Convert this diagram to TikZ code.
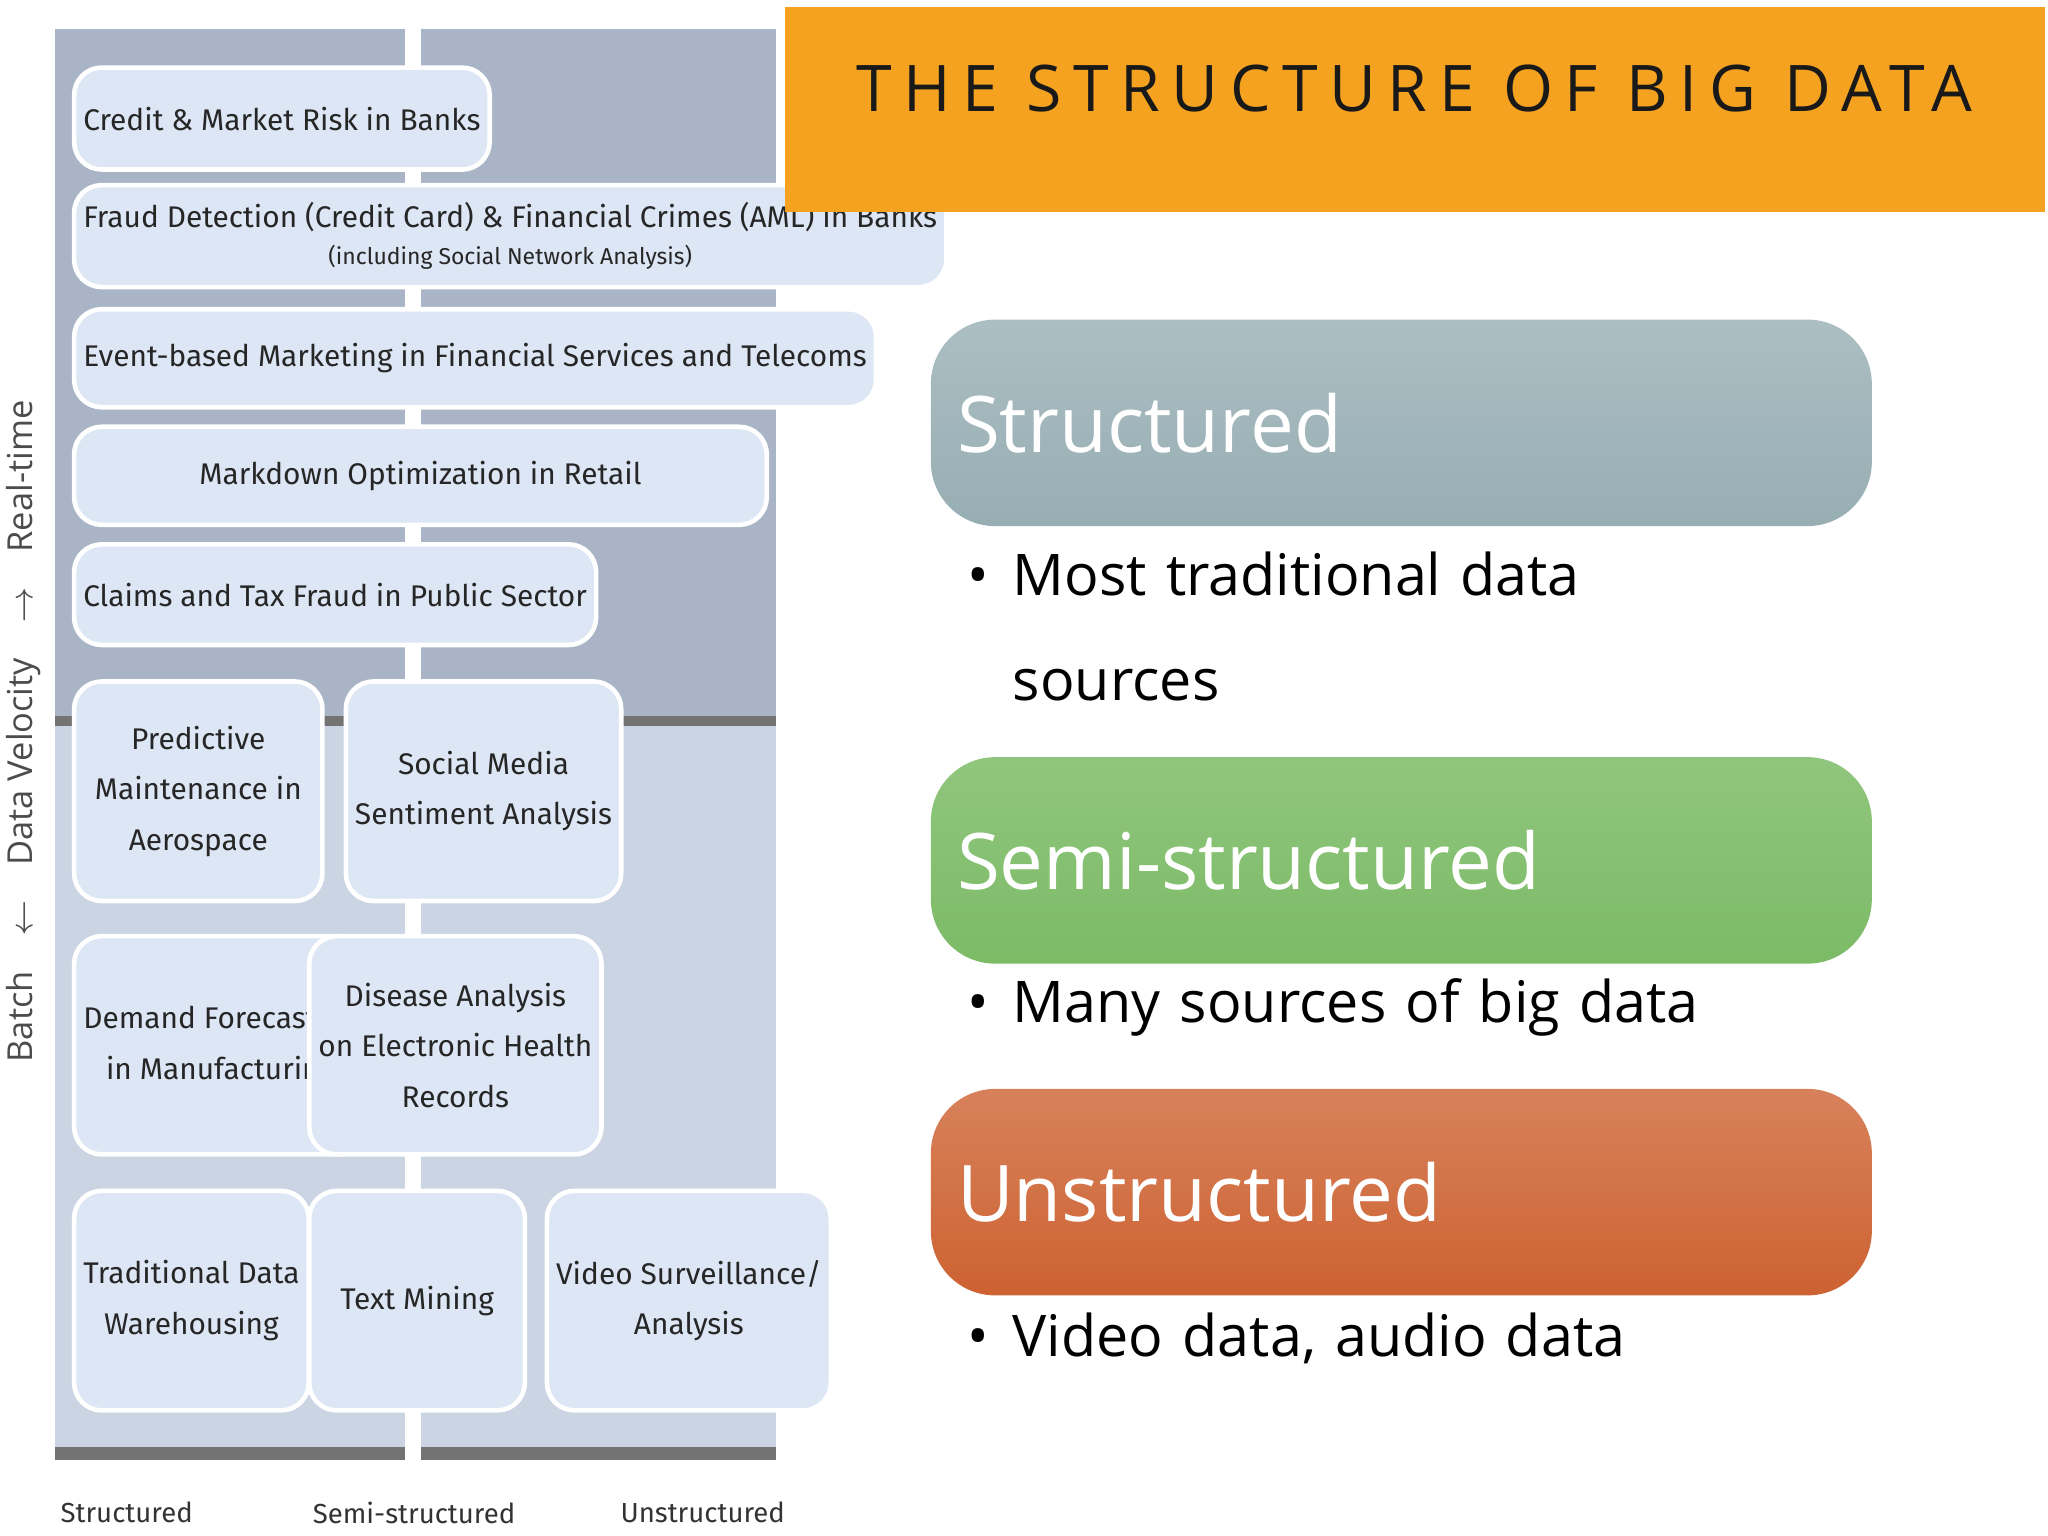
\documentclass[tikz,border=0pt]{standalone}
\usepackage{fontspec}
\setmainfont{Open Sans}
\newfontfamily\narrowFont{Fira Sans}
\newfontfamily\spacedFont[LetterSpace=18]{Open Sans}
\usetikzlibrary{positioning}
\definecolor{bannerOrange}{HTML}{F4A21F}
\definecolor{structGray}{HTML}{97AEB3}
\definecolor{semiGreen}{HTML}{7CBB66}
\definecolor{unstructRed}{HTML}{CD6232}
\definecolor{panelDark}{HTML}{A9B5C6}
\definecolor{panelLight}{HTML}{CAD4E2}
\definecolor{boxBlue}{HTML}{DCE6F4}
\tikzstyle{useCase} = [rectangle, rounded corners=6pt, fill=boxBlue, draw=white, line width=1pt,
text centered, align=center, font=\narrowFont\fontsize{6.5}{11}\selectfont, text=black!85, anchor=north west, inner sep=2pt]
\tikzstyle{dataType} = [rectangle, rounded corners=14pt, minimum width=7.2cm, minimum height=1.58cm,
text=white, font=\fontsize{17}{20}\selectfont, anchor=north west, text width=6.8cm, align=left]
\tikzstyle{bulletItem} = [anchor=west, font=\fontsize{12.5}{15}\selectfont, text width=7cm, align=left]
\tikzstyle{axisLabel} = [font=\narrowFont\fontsize{6}{8}\selectfont, text=black!80]

\begin{document}
\begin{tikzpicture}[x=0.01cm, y=-0.01cm]
        \useasboundingbox (0,0) rectangle (1568,1176);

        % left panel
        \fill[panelDark] (42,22) rectangle (594,555);
        \fill[panelLight] (42,555) rectangle (594,1118);
        \fill[black!55] (42,548) rectangle (594,556);
        \fill[black!55] (42,1108) rectangle (594,1118);
        \fill[white] (310,22) rectangle (322,1118);

        \node (creditRisk) [useCase, minimum width=2.47cm, minimum height=0.78cm] at (55,50) {Credit \& Market Risk in Banks};
        \node (fraudDetect) [useCase, minimum width=5.3cm, minimum height=0.78cm] at (55,140) {Fraud Detection (Credit Card) \& Financial Crimes (AML) in Banks\\[-3pt]{\fontsize{5}{7}\selectfont (including Social Network Analysis)}};
        \node (eventMarketing) [useCase, minimum width=5.3cm, minimum height=0.75cm] at (55,235) {Event-based Marketing in Financial Services and Telecoms};
        \node (markdown) [useCase, minimum width=5.3cm, minimum height=0.75cm] at (55,325) {Markdown Optimization in Retail};
        \node (claimsFraud) [useCase, minimum width=3.07cm, minimum height=0.77cm] at (55,415) {Claims and Tax Fraud in Public Sector};

        \node (predictive) [useCase, minimum width=1.9cm, minimum height=1.68cm] at (55,520) {Predictive\\Maintenance in\\Aerospace};
        \node (socialMedia) [useCase, minimum width=1.92cm, minimum height=1.68cm] at (263,520) {Social Media\\Sentiment Analysis};
        \node (demandForecast) [useCase, minimum width=1.63cm, minimum height=1.67cm] at (55,715) {Demand Forecasting\\in Manufacturing};
        \node (diseaseAnalysis) [useCase, minimum width=1.93cm, minimum height=1.67cm] at (235,715) {Disease Analysis\\on Electronic Health\\Records};
        \node (traditionalDW) [useCase, minimum width=1.63cm, minimum height=1.68cm] at (55,910) {Traditional Data\\Warehousing};
        \node (textMining) [useCase, minimum width=1.65cm, minimum height=1.68cm] at (235,910) {Text Mining};
        \node (videoSurv) [useCase, minimum width=1.65cm, minimum height=1.68cm] at (417,910) {Video Surveillance/\\Analysis};

        \node (axisStruct) [axisLabel] at (97,1158) {Structured};
        \node (axisSemi) [axisLabel] at (317,1158) {Semi-structured};
        \node (axisUnstruct) [axisLabel] at (538,1158) {Unstructured};
        \node (velocity) [rotate=90, font=\fontsize{7.5}{9}\selectfont, text=black!70] at (18,560)
            {Batch\quad$\leftarrow$\quad Data Velocity\quad$\rightarrow$\quad Real-time};

        % right side
        \fill[bannerOrange] (601,5) rectangle (1566,162);
        \node (title) [font=\spacedFont\fontsize{14}{17}\selectfont, text=black!90] at (1083,68)
            {THE STRUCTURE OF BIG DATA};

        \node (structured) [dataType, top color=structGray!80, bottom color=structGray] at (712,244) {Structured};
        \node (semiStructured) [dataType, top color=semiGreen!85, bottom color=semiGreen] at (712,579) {Semi-structured};
        \node (unstructured) [dataType, top color=unstructRed!80, bottom color=unstructRed] at (712,833) {Unstructured};

        \node (structNote) [bulletItem, anchor=north west] at (728,410)
            {\makebox[0.35cm][l]{•}Most traditional data\\[8pt]\hspace*{0.35cm}sources};
        \node (semiNote) [bulletItem] at (728,771) {\makebox[0.35cm][l]{•}Many sources of big data};
        \node (unstructNote) [bulletItem] at (728,1025) {\makebox[0.35cm][l]{•}Video data, audio data};
\end{tikzpicture}
\end{document}
